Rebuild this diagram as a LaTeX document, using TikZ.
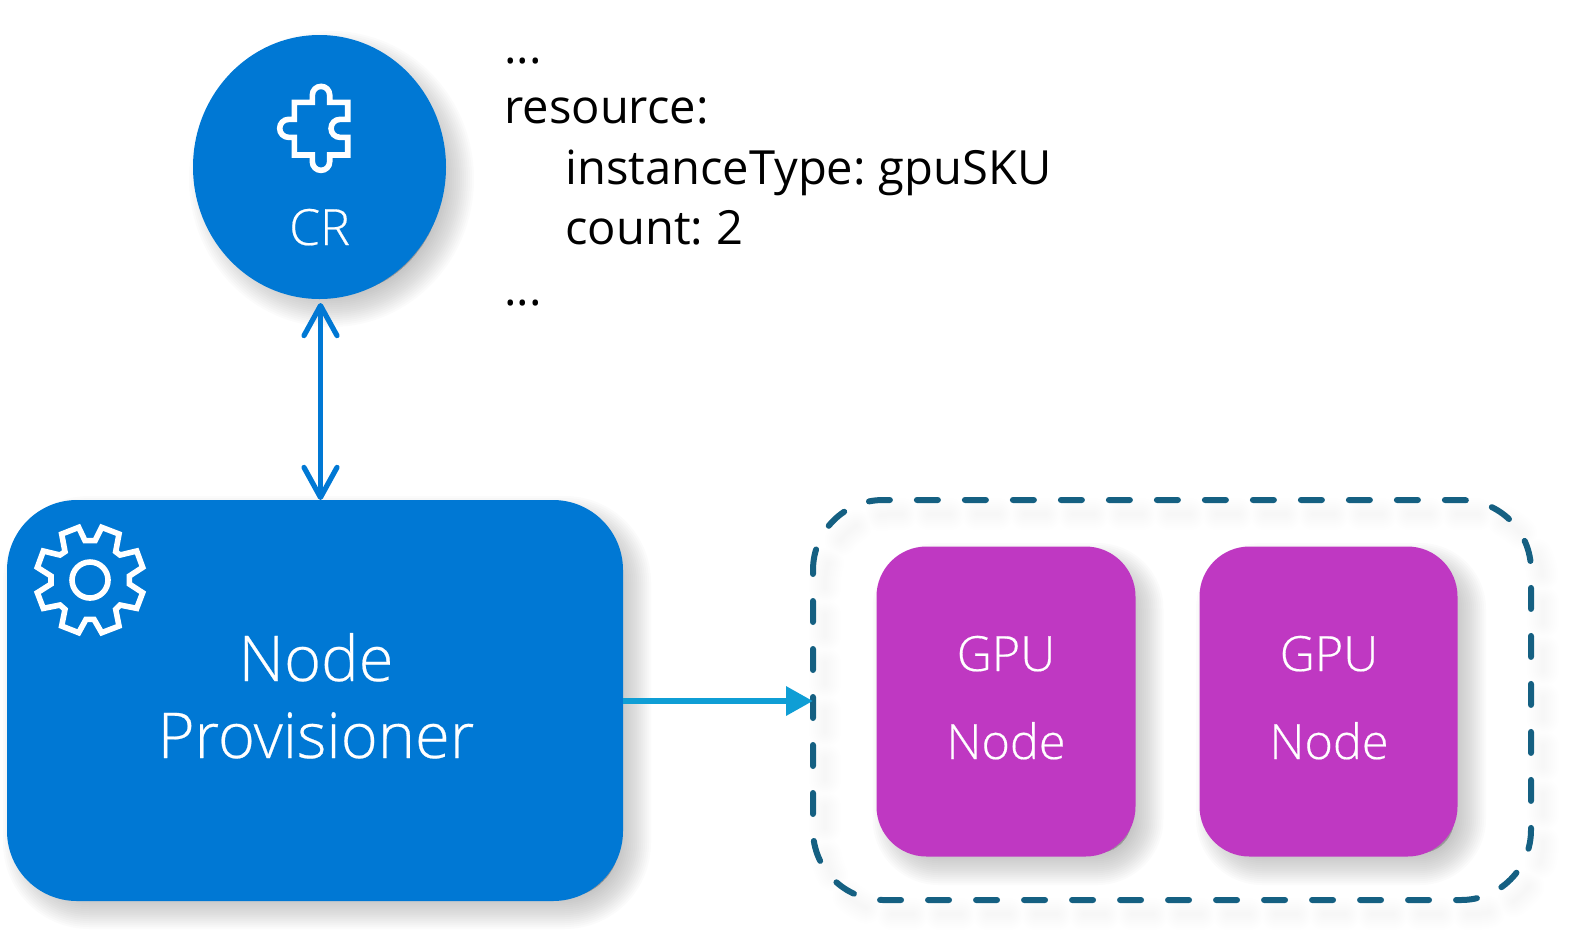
\documentclass[tikz,border=0pt]{standalone}
\usepackage{fontspec}
\setmainfont[WordSpace=0.72]{Open Sans}
\newfontfamily\lightfont[FakeBold=0.35]{Open Sans Light}
\usetikzlibrary{arrows.meta,shapes.geometric}
\definecolor{azure}{HTML}{0078D4}
\definecolor{violetnode}{HTML}{BF38C2}
\definecolor{dashteal}{HTML}{156082}
\definecolor{cyanarrow}{HTML}{0F9ED5}
\tikzset{
  bluebox/.style={fill=azure,draw=none,rounded corners=35pt,inner sep=0pt,minimum width=308pt,minimum height=200.5pt},
  gpubox/.style={fill=violetnode,draw=none,rounded corners=25pt,inner sep=0pt,minimum width=129.5pt,minimum height=155pt},
  whiteicon/.style={draw=white,line width=2.8pt,line join=miter},
  dashgroup/.style={draw=dashteal,line width=3pt,line cap=round,dash pattern=on 10.5pt off 13.5pt,dash phase=8.5pt,rounded corners=35pt},
  linkarrow/.style={draw=azure,line width=2.6pt,{Straight Barb[length=15pt,width=16.5pt,round]}-{Straight Barb[length=15pt,width=16.5pt,round]}},
  feedarrow/.style={draw=cyanarrow,line width=3.2pt,-{Triangle[length=13.5pt,width=14pt]}},
  codeline/.style={anchor=base west,inner sep=0pt,font=\fontsize{23.55}{27}\selectfont,text=black},
  whitelabel/.style={anchor=base,inner sep=0pt,text=white,font=\lightfont\fontsize{24.3}{28}\selectfont},
  crlabelstyle/.style={anchor=base,inner sep=0pt,text=white,font=\lightfont\fontsize{25}{28}\selectfont},
  biglabel/.style={anchor=base,inner sep=0pt,text=white,font=\lightfont\fontsize{31.6}{36}\selectfont},
  softshade/.style={fill=black,draw=black,fill opacity=.014,draw opacity=.014,line join=round}
}
\begin{document}
\begin{tikzpicture}[x=.5pt,y=-.5pt]
\useasboundingbox (0,0) rectangle (1575,944);
% soft shadows
\foreach \w in {0,4,...,64}{
  \path[softshade,line width=\w*.5pt] (331.5,179) ellipse (110.5 and 116);
  \path[softshade,line width=\w*.5pt,rounded corners=27pt] (35,528) rectangle (619,897);
  \path[softshade,line width=\w*.5pt,rounded corners=17pt] (904.5,575) rectangle (1131.5,853);
  \path[softshade,line width=\w*.5pt,rounded corners=17pt] (1228,575) rectangle (1454,853);
}
\foreach \w in {4,8,...,32}{
  \path[draw=black,draw opacity=.004,line width=\w*.5pt,line cap=round,dash pattern=on 10.5pt off 13.5pt,dash phase=8.5pt,rounded corners=35pt]
    (825,514) rectangle (1543,914);
}
% group
\draw[dashgroup] (813,500) rectangle (1531,900);
% CR
\node[ellipse,fill=azure,inner sep=0pt,minimum width=126.5pt,minimum height=132pt] (cr) at (319.5,167) {};
\node[crlabelstyle] (crlabel) at (319.5,245) {CR};
% Provisioner
\node[bluebox] (prov) at (315,700.5) {};
\node[biglabel] (provA) at (316,681) {Node};
\node[biglabel] (provB) at (316,758) {Provisioner};
% GPU
\node[gpubox] (gpuA) at (1006,701.5) {};
\node[gpubox,minimum width=129pt] (gpuB) at (1328.5,701.5) {};
\node[whitelabel] (ga) at (1006,671) {GPU};
\node[whitelabel] (gb) at (1006,759) {Node};
\node[whitelabel] (gc) at (1329,671) {GPU};
\node[whitelabel] (gd) at (1329,759) {Node};
% connectors
\coordinate (feedend) at (813,701);
\coordinate (linktop) at (320.5,303);
\coordinate (linkbot) at (320.5,500);
\draw[linkarrow] (linktop) -- (linkbot);
\draw[feedarrow] (prov.east |- feedend) -- (feedend);
% code
\node[codeline] (c1) at (504,63) {...};
\node[codeline] (c2) at (504,123) {resource:};
\node[codeline] (c3) at (565,184) {instanceType: gpuSKU};
\node[codeline] (c4) at (565,244) {count: 2};
\node[codeline] (c5) at (504,305) {...};
% puzzle icon
\begin{scope}[shift={(180,20)},x=.1667pt,y=-.1667pt]
\draw[whiteicon] (343,247) -- (397,247) -- (397,225) arc (180:360:26) -- (449,247) -- (503,247) -- (503,298) -- (480,298) arc (270:90:27) -- (503,352) -- (503,405) -- (449,405) -- (449,425) arc (0:180:26) -- (397,405) -- (343,405) -- (343,352) -- (326,352) arc (90:270:27) -- (343,298) -- cycle;
\end{scope}
% gear icon
\begin{scope}[shift={(0,450)},x=.1667pt,y=-.1667pt]
\draw[whiteicon] (255,272) -- (236,232) -- (185,252) -- (195,305) -- (180,315) -- (130,303) -- (112,352) -- (153,378) -- (153,402) -- (112,428) -- (130,475) -- (180,465) -- (195,478) -- (185,528) -- (236,548) -- (258,508) -- (282,508) -- (305,548) -- (357,528) -- (347,478) -- (360,465) -- (410,475) -- (428,428) -- (388,402) -- (388,378) -- (428,352) -- (410,303) -- (360,315) -- (347,305) -- (357,252) -- (305,232) -- (285,272) -- cycle;
\draw[whiteicon] (270,390) circle (54);
\end{scope}
\end{tikzpicture}
\end{document}
